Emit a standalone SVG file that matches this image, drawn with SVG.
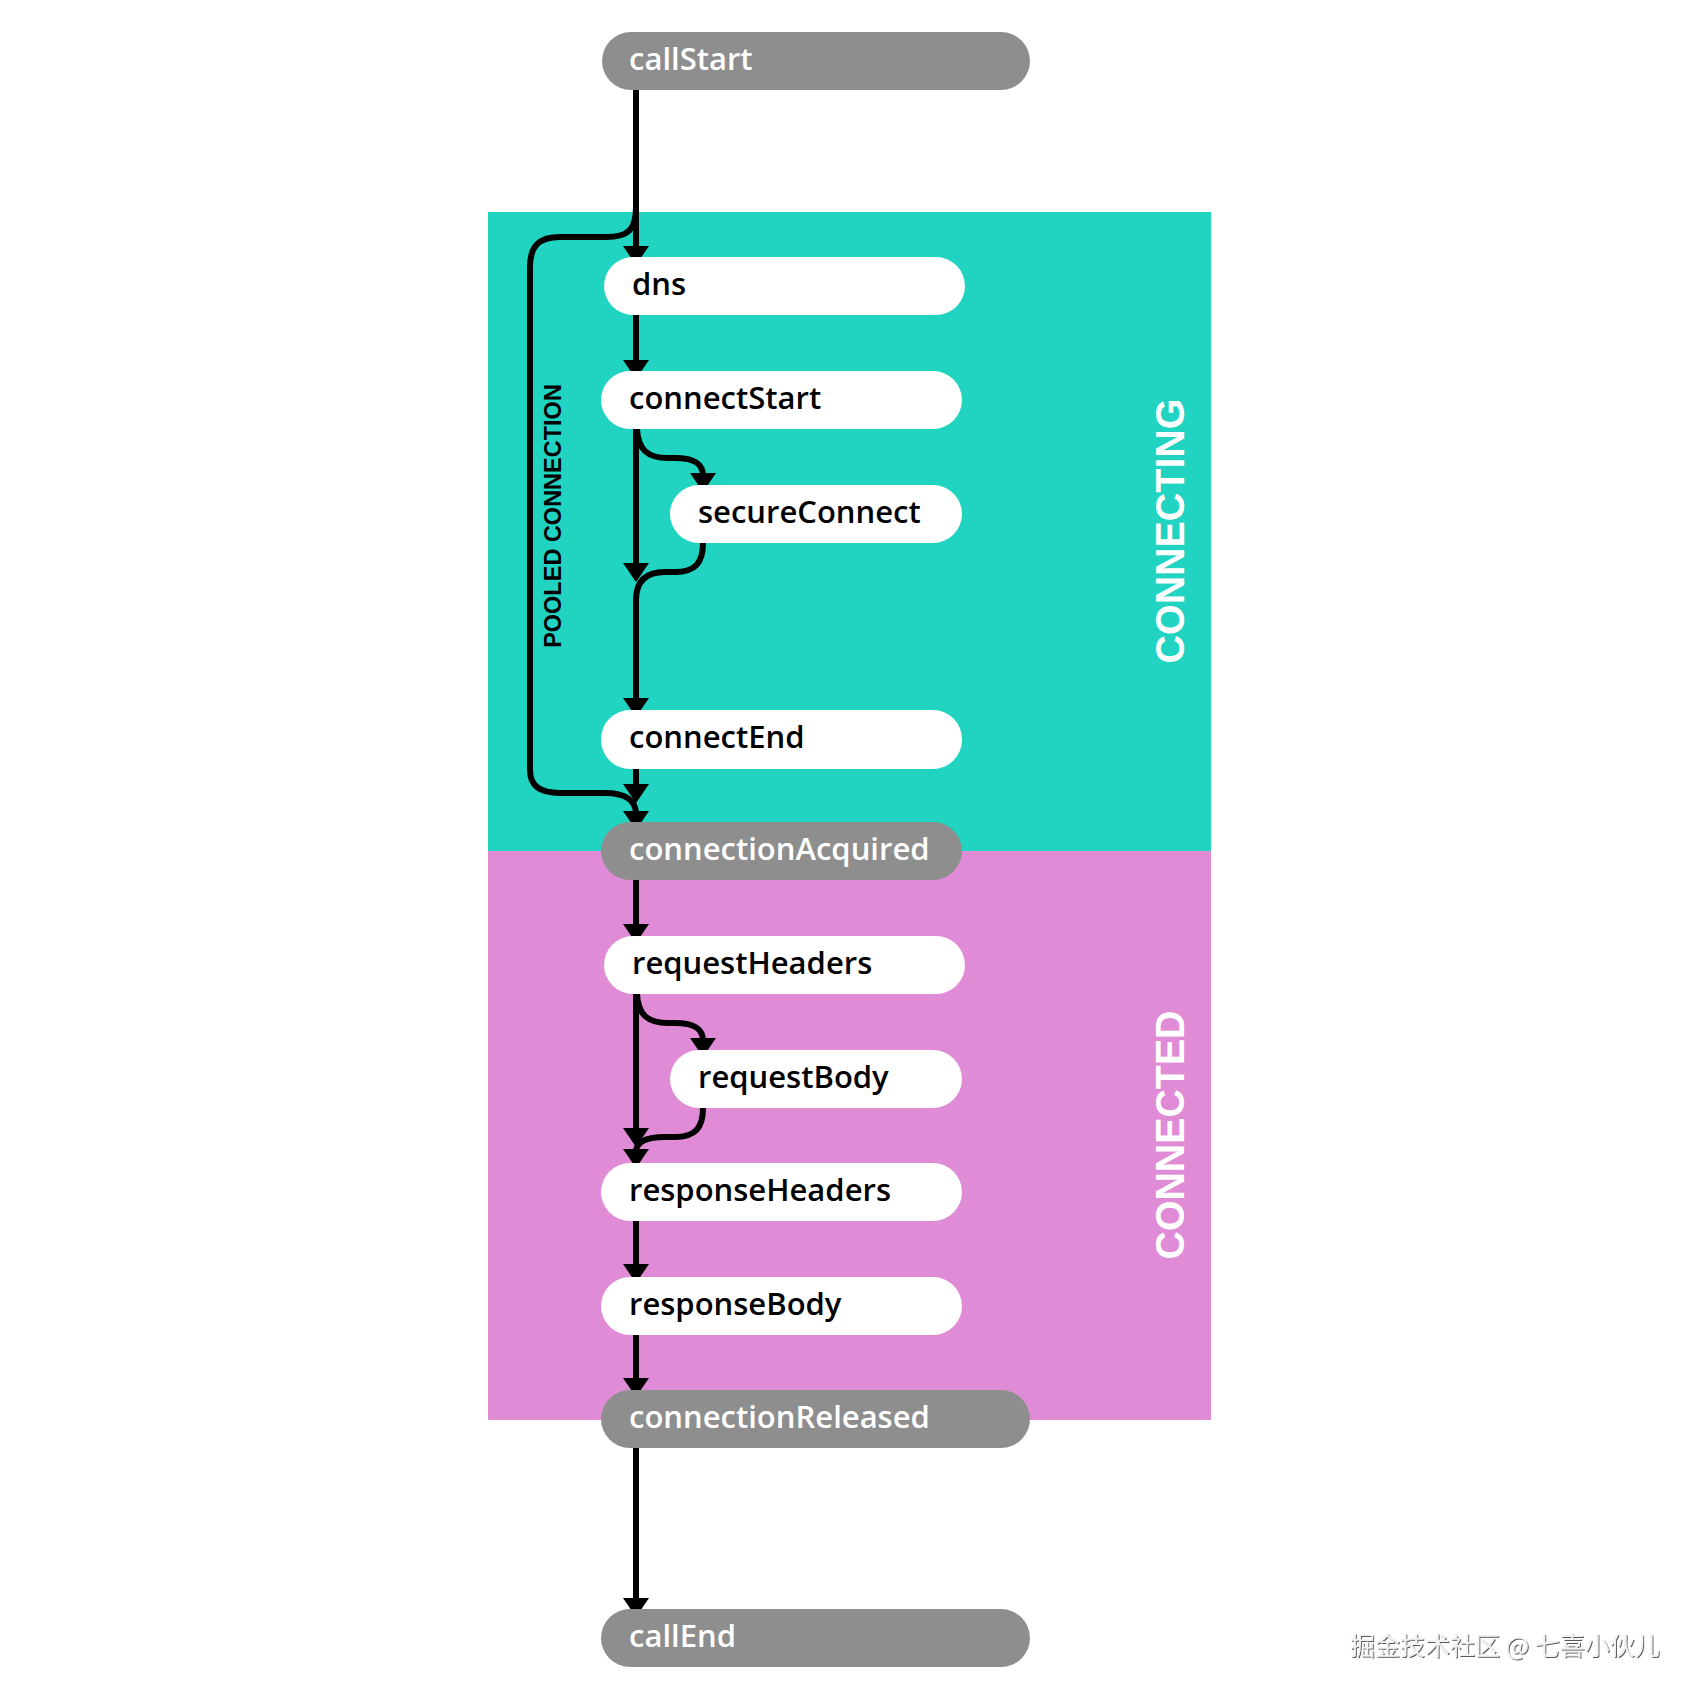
<svg xmlns="http://www.w3.org/2000/svg" width="1700" height="1700" viewBox="0 0 1700 1700">
<style>
.pill-w{fill:#ffffff}
.pill-g{fill:#8e8e8e}
.lbl{font-family:"Open Sans","Noto Sans",sans-serif;font-size:31px;font-weight:600}
.lbl-w{fill:#ffffff}
.lbl-b{fill:#000000}
.conn{fill:none;stroke:#000;stroke-width:6}
.head{fill:#000}
.phase{font-family:"Liberation Sans",Arial,sans-serif;font-size:40px;font-weight:bold;fill:#ffffff}
.pool{font-family:"Liberation Sans",Arial,sans-serif;font-size:23.5px;font-weight:bold;fill:#000}
.wm{font-family:"Noto Sans CJK SC","Noto Sans",sans-serif;font-size:25px;fill:#f2f2f2}
</style>
<defs>
<path id="ah" d="M-13,-19 L13,-19 L0,0 Z"/>
<filter id="emboss" x="-5%" y="-20%" width="110%" height="150%">
<feDropShadow dx="1" dy="1" stdDeviation="0.6" flood-color="#444" flood-opacity="0.9"/>
</filter>
</defs>
<rect width="1700" height="1700" fill="#ffffff"/>
<g id="phases">
<rect id="connecting-bg" x="488" y="212" width="723" height="639" fill="#20d4c1"/>
<rect id="connected-bg" x="488" y="851" width="723" height="569" fill="#e08bd6"/>
<text class="phase" transform="translate(1184,531) rotate(-90)" text-anchor="middle" textLength="265" lengthAdjust="spacingAndGlyphs">CONNECTING</text>
<text class="phase" transform="translate(1184,1135) rotate(-90)" text-anchor="middle" textLength="249" lengthAdjust="spacingAndGlyphs">CONNECTED</text>
<text class="pool" transform="translate(561,516) rotate(-90)" text-anchor="middle">POOLED CONNECTION</text>
</g>
<g id="connectors">
<path class="conn" d="M636,90 V250"/>
<path class="conn" d="M636,207 C636,230 628,237 606,237 H560 C538,237 530,247 530,267 V770 C530,786 540,793 560,793 H605 C625,793 636,800 636,814"/>
<path class="conn" d="M636,315 V364"/>
<path class="conn" d="M636,429 V567"/>
<path class="conn" d="M637,429 C638,450 648,458 668,458 H675 C695,458 703,464 703,476"/>
<path class="conn" d="M703,543 C703,563 695,572 675,572 H665 C645,572 636,582 636,600 V702"/>
<path class="conn" d="M636,769 V788"/>
<path class="conn" d="M636,880 V928"/>
<path class="conn" d="M636,994 V1132"/>
<path class="conn" d="M637,994 C638,1015 648,1023 668,1023 H675 C695,1023 703,1029 703,1041"/>
<path class="conn" d="M703,1108 C703,1128 695,1137 675,1137 H665 C647,1137 636,1141 636,1152"/>
<path class="conn" d="M636,1221 V1268"/>
<path class="conn" d="M636,1335 V1382"/>
<path class="conn" d="M636,1448 V1602"/>
<use class="head" href="#ah" x="636" y="265"/>
<use class="head" href="#ah" x="636" y="830"/>
<use class="head" href="#ah" x="636" y="379"/>
<use class="head" href="#ah" x="636" y="582"/>
<use class="head" href="#ah" x="703" y="492"/>
<use class="head" href="#ah" x="636" y="717"/>
<use class="head" href="#ah" x="636" y="803"/>
<use class="head" href="#ah" x="636" y="943"/>
<use class="head" href="#ah" x="636" y="1147"/>
<use class="head" href="#ah" x="703" y="1057"/>
<use class="head" href="#ah" x="636" y="1168"/>
<use class="head" href="#ah" x="636" y="1283"/>
<use class="head" href="#ah" x="636" y="1397"/>
<use class="head" href="#ah" x="636" y="1617"/>
</g>
<g id="callStart"><rect class="pill-g" x="602" y="32" width="428" height="58" rx="29"/><text class="lbl lbl-w" x="629" y="70">callStart</text></g>
<g id="dns"><rect class="pill-w" x="604" y="257" width="361" height="58" rx="29"/><text class="lbl lbl-b" x="632" y="295">dns</text></g>
<g id="connectStart"><rect class="pill-w" x="601" y="371" width="361" height="58" rx="29"/><text class="lbl lbl-b" x="629" y="409">connectStart</text></g>
<g id="secureConnect"><rect class="pill-w" x="670" y="485" width="292" height="58" rx="29"/><text class="lbl lbl-b" x="698" y="523">secureConnect</text></g>
<g id="connectEnd"><rect class="pill-w" x="601" y="710" width="361" height="59" rx="29"/><text class="lbl lbl-b" x="629" y="748">connectEnd</text></g>
<g id="connectionAcquired"><rect class="pill-g" x="601" y="822" width="361" height="58" rx="29"/><text class="lbl lbl-w" x="629" y="860">connectionAcquired</text></g>
<g id="requestHeaders"><rect class="pill-w" x="604" y="936" width="361" height="58" rx="29"/><text class="lbl lbl-b" x="632" y="974">requestHeaders</text></g>
<g id="requestBody"><rect class="pill-w" x="670" y="1050" width="292" height="58" rx="29"/><text class="lbl lbl-b" x="698" y="1088">requestBody</text></g>
<g id="responseHeaders"><rect class="pill-w" x="601" y="1163" width="361" height="58" rx="29"/><text class="lbl lbl-b" x="629" y="1201">responseHeaders</text></g>
<g id="responseBody"><rect class="pill-w" x="601" y="1277" width="361" height="58" rx="29"/><text class="lbl lbl-b" x="629" y="1315">responseBody</text></g>
<g id="connectionReleased"><rect class="pill-g" x="601" y="1390" width="429" height="58" rx="29"/><text class="lbl lbl-w" x="629" y="1428">connectionReleased</text></g>
<g id="callEnd"><rect class="pill-g" x="601" y="1609" width="429" height="58" rx="29"/><text class="lbl lbl-w" x="629" y="1647">callEnd</text></g>
<text class="wm" x="1350" y="1655" filter="url(#emboss)">掘金技术社区 @ 七喜小伙儿</text>
</svg>
